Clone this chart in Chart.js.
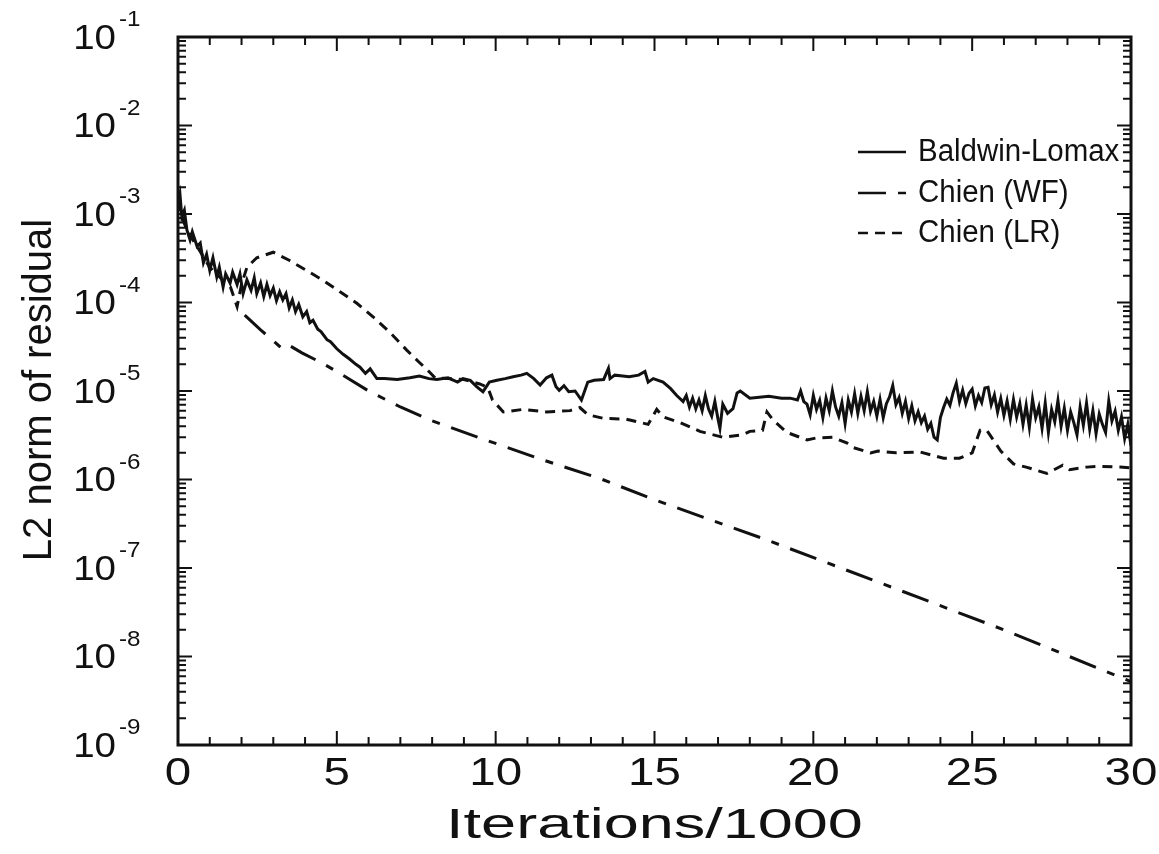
<!DOCTYPE html>
<html>
<head>
<meta charset="utf-8">
<script src="https://cdn.jsdelivr.net/npm/chart.js@4.4.1/dist/chart.umd.min.js"></script>
<style>
  html, body { margin: 0; padding: 0; background: #fff; }
  canvas { display: block; }
</style>
</head>
<body>
<canvas id="grafico" width="1159" height="854"></canvas>
<script>
// ============================
// Dados
// ============================
const xTicks = [0, 5, 10, 15, 20, 25, 30];
const yExpoentes = [-1, -2, -3, -4, -5, -6, -7, -8, -9];
const legendas = ["Baldwin-Lomax", "Chien (WF)", "Chien (LR)"];

// Baldwin-Lomax (linha cheia)
const blX = [0, 0.06, 0.12, 0.2, 0.28, 0.38, 0.45, 0.6, 0.7, 0.8, 0.9, 1.0, 1.1, 1.22, 1.3, 1.42, 1.5, 1.64, 1.72, 1.86, 1.95,
  2.05, 2.17, 2.3, 2.4, 2.48, 2.6, 2.7, 2.8, 2.9, 3.0, 3.1, 3.2, 3.3, 3.4, 3.5, 3.6, 3.7, 3.8, 3.93, 4.05, 4.15, 4.25,
  4.4, 4.5, 4.69, 4.8, 5.0, 5.2, 5.4, 5.6, 5.73, 5.9, 6.05, 6.26, 6.5, 6.9, 7.3, 7.6, 7.9, 8.15, 8.5, 8.8, 8.97, 9.2,
  9.4, 9.6, 9.8, 10.04, 10.3, 10.55, 10.8, 10.98, 11.2, 11.4, 11.6, 11.77, 11.9, 12.0, 12.15, 12.3, 12.5, 12.7, 12.9,
  13.1, 13.4, 13.55, 13.6, 13.75, 14.0, 14.2, 14.5, 14.7, 14.8, 14.96, 15.27, 15.5, 15.7, 15.9, 16.0, 16.1, 16.2, 16.3,
  16.4, 16.5, 16.6, 16.7, 16.8, 16.9, 17.0, 17.06, 17.15, 17.3, 17.47, 17.6, 17.7, 18.0, 18.3, 18.6, 19.0, 19.27, 19.5,
  19.6, 19.7,
  19.8, 19.9, 20.0, 20.1, 20.2, 20.3, 20.4, 20.5, 20.6, 20.7, 20.8, 20.9, 21.0, 21.1, 21.2, 21.3, 21.4, 21.5, 21.6, 21.7,
  21.8, 21.9, 22.0, 22.1, 22.2, 22.3, 22.4, 22.5, 22.6, 22.7, 22.8, 22.9, 23.0, 23.1, 23.2, 23.3, 23.4, 23.5, 23.6, 23.7,
  23.8, 23.9, 24.0, 24.1, 24.2, 24.3, 24.4, 24.5, 24.6, 24.7, 24.8, 24.9, 25.0, 25.1, 25.2, 25.3, 25.4, 25.5, 25.6, 25.7,
  25.8, 25.9, 26.0, 26.1, 26.2, 26.3, 26.4, 26.5, 26.6, 26.7, 26.8, 26.9, 27.0, 27.1, 27.2, 27.3, 27.4, 27.5, 27.6, 27.7,
  27.8, 27.9, 28.0, 28.1, 28.2, 28.3, 28.4, 28.5, 28.6, 28.7, 28.8, 28.9, 29.0, 29.1, 29.2, 29.3, 29.4, 29.5, 29.6, 29.7,
  29.8, 29.9, 30.0];
const blY = [1.4e-3, 1.7e-3, 9.3e-4, 1.1e-3, 6.6e-4, 5.1e-4, 6.3e-4, 4.3e-4, 4.7e-4, 2.8e-4, 3.5e-4, 2.3e-4, 3.2e-4, 1.95e-4,
  2.5e-4, 1.5e-4, 2.1e-4, 1.66e-4, 2.2e-4, 1.6e-4, 2.1e-4,
  1.26e-4, 1.8e-4, 1.38e-4, 1.9e-4, 1.26e-4, 1.66e-4, 1.17e-4, 1.6e-4, 1.2e-4, 1.45e-4, 1.05e-4, 1.32e-4, 1.07e-4,
  1.26e-4, 8.7e-5, 1.07e-4, 7.9e-5, 9.5e-5, 6.9e-5, 7.9e-5, 5.9e-5, 6.3e-5,
  5.0e-5, 4.7e-5, 3.8e-5, 3.6e-5, 3.0e-5, 2.6e-5, 2.3e-5, 2.0e-5, 1.86e-5, 1.58e-5, 1.78e-5, 1.38e-5, 1.38e-5, 1.35e-5,
  1.41e-5, 1.48e-5, 1.38e-5, 1.35e-5, 1.41e-5, 1.26e-5, 1.38e-5, 1.32e-5,
  1.12e-5, 9.8e-6, 1.26e-5, 1.32e-5, 1.38e-5, 1.45e-5, 1.51e-5, 1.58e-5, 1.38e-5, 1.17e-5, 1.41e-5, 1.51e-5, 1.12e-5,
  1.02e-5, 1.15e-5, 9.8e-6, 1.0e-5, 7.9e-6, 1.26e-5,
  1.32e-5, 1.35e-5, 1.8e-5, 1.38e-5, 1.51e-5, 1.48e-5, 1.45e-5, 1.51e-5, 1.66e-5, 1.26e-5, 1.38e-5, 1.26e-5, 1.07e-5,
  8.9e-6, 7.6e-6, 8.9e-6, 6.6e-6, 8.3e-6, 6.3e-6,
  7.9e-6, 6.0e-6, 8.9e-6, 6.3e-6, 5.2e-6, 7.6e-6, 4.8e-6, 3.8e-6, 7.1e-6, 5.6e-6, 6.3e-6, 9.5e-6, 1.0e-5, 8.3e-6, 8.5e-6,
  8.7e-6, 8.3e-6, 8.3e-6, 7.9e-6,
  1.0e-5, 7.6e-6,
  7.1e-6, 5.4e-6, 8.9e-6, 6.2e-6, 7.8e-6, 5.0e-6, 8.3e-6, 6.0e-6, 1.0e-5, 6.6e-6, 5.2e-6, 7.4e-6, 4.3e-6, 7.9e-6, 5.8e-6,
  9.3e-6, 5.6e-6, 8.7e-6, 6.0e-6, 9.8e-6,
  5.9e-6, 7.6e-6, 5.2e-6, 8.0e-6, 5.0e-6, 7.2e-6, 8.6e-6, 1.15e-5, 7.0e-6, 8.4e-6, 5.6e-6, 7.6e-6, 4.9e-6, 6.8e-6, 4.6e-6,
  5.8e-6, 4.4e-6, 5.2e-6, 3.7e-6, 4.3e-6,
  3.0e-6, 2.8e-6, 5.0e-6, 6.5e-6, 8.1e-6, 6.9e-6, 9.6e-6, 1.22e-5, 7.6e-6, 1.02e-5, 7.2e-6, 9.4e-6, 1.05e-5, 6.8e-6, 8.9e-6,
  7.4e-6, 1.08e-5, 1.1e-5, 7.0e-6, 9.0e-6,
  5.8e-6, 8.2e-6, 5.3e-6, 7.7e-6, 4.8e-6, 8.0e-6, 5.1e-6, 7.2e-6, 4.2e-6, 6.9e-6, 3.9e-6, 8.1e-6, 5.0e-6, 6.6e-6, 3.8e-6,
  7.3e-6, 3.4e-6, 6.2e-6, 4.5e-6, 7.8e-6,
  4.0e-6, 6.4e-6, 3.6e-6, 5.8e-6, 4.4e-6, 3.2e-6, 6.6e-6, 4.1e-6, 7.3e-6, 3.7e-6, 6.0e-6, 3.3e-6, 5.5e-6, 4.2e-6, 3.4e-6,
  7.7e-6, 4.6e-6, 5.9e-6, 3.6e-6, 5.1e-6,
  2.9e-6, 4.2e-6, 2.4e-6];

// Chien (WF) (traço-ponto)
const wfX = [2.1, 2.6, 3.0, 3.3, 3.55, 3.9, 4.5, 5.0, 6.0, 7.0, 8.0, 9.5, 11.5, 13.3, 15.0, 18.5, 22.1, 26.0, 30.0];
const wfY = [7.2e-5, 4.9e-5, 3.7e-5, 2.95e-5, 3.2e-5, 2.7e-5, 2.1e-5, 1.66e-5, 1.0e-5, 6.6e-6, 4.6e-6, 2.95e-6, 1.66e-6,
  1.02e-6, 5.9e-7, 2.1e-7, 6.8e-8, 2.0e-8, 5.2e-9];

// Chien (LR) (tracejada)
const lrX = [0, 0.12, 0.28, 0.6, 1.0, 1.4, 1.65, 1.86, 2.0, 2.17, 2.48, 3.0, 3.5, 4.05, 4.57, 5.1, 5.63, 6.14, 6.67, 7.2,
  7.6, 7.93, 8.1, 8.5, 9.0, 9.5, 9.75, 9.9, 10.24, 10.87, 11.6, 12.34, 12.65, 12.9, 13.4, 14.1, 14.8, 15.07, 15.27, 15.8,
  16.43, 17.15, 17.78, 18.0, 18.4, 18.54, 18.73, 19.17, 19.8, 20.1, 20.6, 21.05, 21.25, 21.8, 22.04, 22.6, 23.35, 24.1,
  24.6, 25.0, 25.25, 25.46, 25.9, 26.3, 26.7, 27.35, 27.85, 28.07, 28.6, 29.0, 29.65, 30.0];
const lrY = [1.4e-3, 9.3e-4, 6.6e-4, 4.3e-4, 2.5e-4, 1.8e-4, 1.5e-4, 9.0e-5, 1.6e-4, 2.5e-4, 3.2e-4, 3.7e-4, 3.0e-4, 2.3e-4,
  1.78e-4, 1.32e-4, 9.8e-5, 6.9e-5, 4.6e-5, 2.9e-5,
  2.1e-5, 1.62e-5, 1.4e-5, 1.38e-5, 1.35e-5, 1.2e-5, 1.1e-5, 7.9e-6, 5.8e-6, 6.2e-6, 5.8e-6, 6.0e-6, 6.5e-6, 5.4e-6,
  4.9e-6, 4.8e-6, 4.2e-6, 6.2e-6, 5.1e-6, 4.4e-6,
  3.5e-6, 3.0e-6, 3.2e-6, 3.5e-6, 3.6e-6, 5.8e-6, 4.7e-6, 3.4e-6, 2.8e-6, 2.95e-6, 3.0e-6, 2.6e-6, 2.3e-6, 2.0e-6, 2.1e-6,
  2.0e-6, 2.05e-6, 1.74e-6,
  1.74e-6, 2.0e-6, 3.6e-6, 3.6e-6, 2.1e-6, 1.5e-6, 1.38e-6, 1.17e-6, 1.45e-6, 1.29e-6, 1.38e-6, 1.41e-6, 1.38e-6, 1.35e-6];

// ============================
// Estilo
// ============================
const FONTE = '"Liberation Sans", Arial, Helvetica, sans-serif';
const COR = "#111";
const tracos = [[], [28, 12, 8, 12], [10, 7]];

function pontos(xs, ys) {
  return xs.map((x, i) => ({ x: x, y: ys[i] }));
}

// texto com esticamento horizontal (a figura original é mais larga)
function texto(ctx, t, x, y, tam, esticar, alinhar) {
  ctx.save();
  ctx.font = tam + "px " + FONTE;
  ctx.textAlign = alinhar || "center";
  ctx.textBaseline = "middle";
  ctx.translate(x, y);
  ctx.scale(esticar, 1);
  ctx.fillText(t, 0, 0);
  ctx.restore();
}

// ============================
// Eixos, ticks e legenda desenhados à mão
// ============================
const molduraPlugin = {
  id: "moldura",
  afterDraw(chart) {
    const ctx = chart.ctx;
    const a = chart.chartArea;
    const xs = chart.scales.x;
    const ys = chart.scales.y;
    ctx.save();
    ctx.strokeStyle = COR;
    ctx.fillStyle = COR;
    ctx.lineWidth = 3;
    ctx.setLineDash([]);
    ctx.strokeRect(a.left, a.top, a.right - a.left, a.bottom - a.top);

    // ticks do eixo x (baixo e cima, para dentro)
    ctx.lineWidth = 2;
    for (let v = 0; v <= 30; v++) {
      const px = xs.getPixelForValue(v);
      const len = v % 5 === 0 ? 14 : 8;
      ctx.beginPath();
      ctx.moveTo(px, a.bottom); ctx.lineTo(px, a.bottom - len);
      ctx.moveTo(px, a.top); ctx.lineTo(px, a.top + len);
      ctx.stroke();
    }
    // ticks do eixo y log (esquerda e direita)
    for (let e = -9; e <= -1; e++) {
      for (let m = 1; m <= 9; m++) {
        const val = m * Math.pow(10, e);
        if (val > 0.1 + 1e-12) continue;
        const py = ys.getPixelForValue(val);
        const len = m === 1 ? 14 : 8;
        ctx.beginPath();
        ctx.moveTo(a.left, py); ctx.lineTo(a.left + len, py);
        ctx.moveTo(a.right, py); ctx.lineTo(a.right - len, py);
        ctx.stroke();
      }
    }

    // rótulos do x
    xTicks.forEach(v => {
      texto(ctx, String(v), xs.getPixelForValue(v), a.bottom + 30, 38, 1.25);
    });

    // rótulos do y com expoente
    yExpoentes.forEach(e => {
      const py = ys.getPixelForValue(Math.pow(10, e));
      texto(ctx, "10", 116, py + 2, 35, 1.1, "right");
      texto(ctx, String(e), 119, py - 17, 22, 1.1, "left");
    });

    // títulos
    texto(ctx, "Iterations/1000", (a.left + a.right) / 2, 826, 42, 1.5);
    ctx.save();
    ctx.translate(40, 390);
    ctx.rotate(-Math.PI / 2);
    ctx.font = "40px " + FONTE;
    ctx.textAlign = "center";
    ctx.textBaseline = "middle";
    ctx.fillText("L2 norm of residual", 0, 0);
    ctx.restore();

    // legenda
    const legY = [152, 193, 233];
    legendas.forEach((txt, i) => {
      ctx.lineWidth = 2.5;
      ctx.setLineDash(tracos[i]);
      ctx.beginPath();
      ctx.moveTo(858, legY[i]); ctx.lineTo(906, legY[i]);
      ctx.stroke();
      ctx.setLineDash([]);
      texto(ctx, txt, 918, legY[i], 31, 0.95, "left");
    });
    ctx.restore();
  }
};

const ctx = document.getElementById("grafico").getContext("2d");
new Chart(ctx, {
  type: "line",
  data: {
    datasets: [
      { label: legendas[0], data: pontos(blX, blY), borderDash: tracos[0] },
      { label: legendas[1], data: pontos(wfX, wfY), borderDash: tracos[1] },
      { label: legendas[2], data: pontos(lrX, lrY), borderDash: tracos[2] }
    ].map(d => Object.assign(d, {
      borderColor: COR, borderWidth: 3, pointRadius: 0, tension: 0, fill: false
    }))
  },
  options: {
    responsive: false,
    animation: false,
    devicePixelRatio: 1,
    layout: { padding: { left: 178, right: 28, top: 37, bottom: 109 } },
    plugins: { legend: { display: false }, tooltip: { enabled: false } },
    scales: {
      x: { type: "linear", min: 0, max: 30, display: false },
      y: { type: "logarithmic", min: 1e-9, max: 1e-1, display: false }
    }
  },
  plugins: [molduraPlugin]
});
</script>
</body>
</html>
